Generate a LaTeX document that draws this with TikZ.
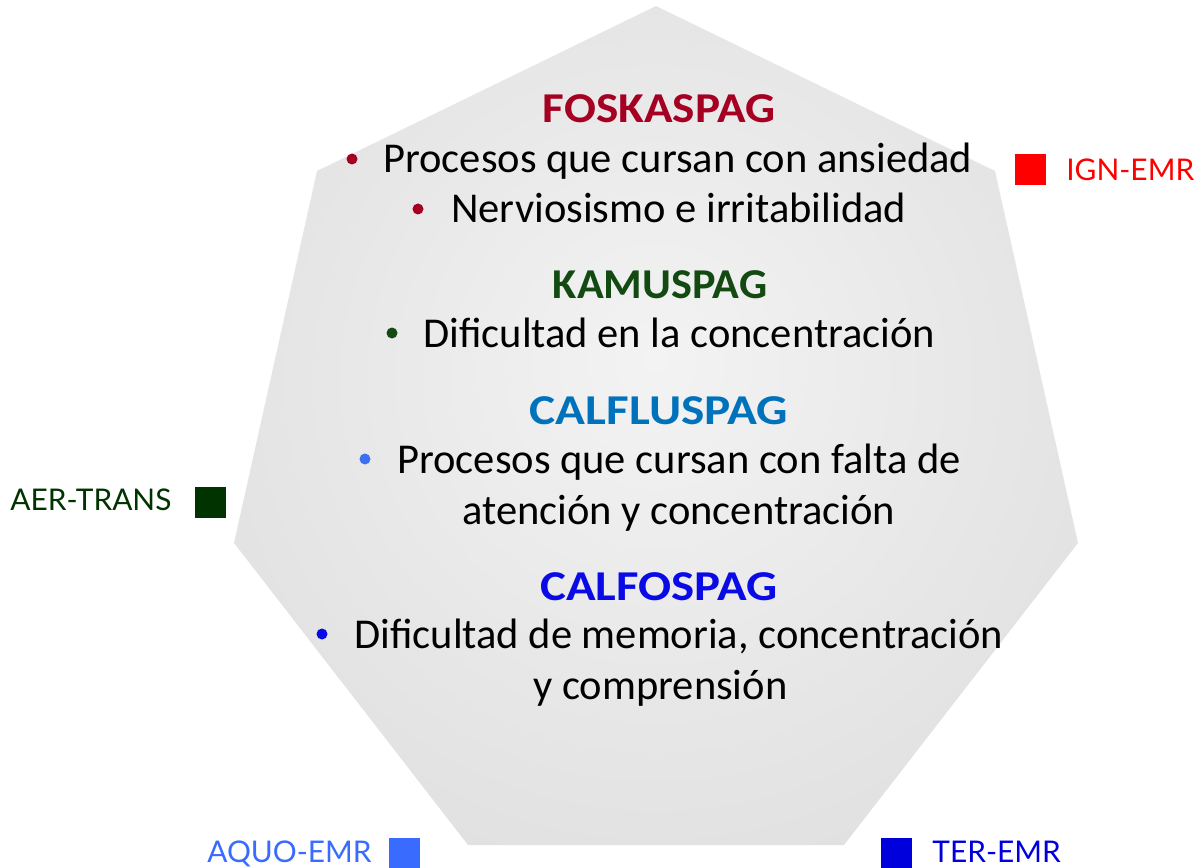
\documentclass[tikz,border=0pt]{standalone}
\usepackage{fontspec}
\setmainfont{Carlito}
\newfontfamily\legendfont{Lato}
\usetikzlibrary{positioning}
\definecolor{fosred}{HTML}{A50021}
\definecolor{kamgreen}{HTML}{124A12}
\definecolor{flublue}{HTML}{0072BC}
\definecolor{fludot}{HTML}{3D6FF2}
\definecolor{fosblue}{HTML}{0A0AE6}
\definecolor{ignred}{HTML}{FF0000}
\definecolor{aergreen}{HTML}{003300}
\definecolor{aquoblue}{HTML}{3A6BFF}
\definecolor{terblue}{HTML}{0000DD}
\definecolor{hepin}{HTML}{F3F3F3}
\definecolor{hepout}{HTML}{D8D8D8}
\pgfdeclareradialshading{heptglow}{\pgfpoint{0bp}{4bp}}{color(0bp)=(hepin); color(44bp)=(hepout); color(60bp)=(hepout)}

\begin{document}
\begin{tikzpicture}[x=0.02cm, y=-0.02cm,
  heading/.style={anchor=base,inner sep=0,
    font=\fontsize{24.2}{29}\selectfont\bfseries\addfontfeature{FakeStretch=#1}},
  bodyline/.style={anchor=base west,inner sep=0,font=\fontsize{24.2}{29}\selectfont},
  dot/.style={circle,inner sep=0,minimum size=0.22cm},
  swatch/.style={inner sep=0,minimum size=0.62cm},
  legend/.style={anchor=base west,inner sep=0,font=\legendfont\fontsize{17}{21}\selectfont}]
\useasboundingbox (0,0) rectangle (1197,868);
% heptagon
\coordinate (h1) at (656,6);
\coordinate (h2) at (995,171);
\coordinate (h3) at (1078,543);
\coordinate (h4) at (844,845);
\coordinate (h5) at (468,845);
\coordinate (h6) at (234,543);
\coordinate (h7) at (317,171);
\path[shading=heptglow] (h1) -- (h2) -- (h3) -- (h4) -- (h5) -- (h6) -- (h7) -- cycle;
% FOSKASPAG
\node[heading=1.11,text=fosred] (fos) at (659,123) {FOSKASPAG};
\node[bodyline] (fos1) at (383,173) {Procesos que cursan con ansiedad};
\node[dot,fill=fosred] (fosd1) at (352,159) {};
\node[bodyline] (fos2) at (451,223) {Nerviosismo e irritabilidad};
\node[dot,fill=fosred] (fosd2) at (418,209) {};
% KAMUSPAG
\node[heading=1.04,text=kamgreen] (kam) at (660,298) {KAMUSPAG};
\node[bodyline] (kam1) at (423,347) {Dificultad en la concentración};
\node[dot,fill=kamgreen] (kamd1) at (392,333) {};
% CALFLUSPAG
\node[heading=1.16,text=flublue] (flu) at (659,424) {CALFLUSPAG};
\node[bodyline] (flu1) at (397,473) {Procesos que cursan con falta de};
\node[dot,fill=fludot] (flud1) at (365,459) {};
\node[bodyline] (flu2) at (462,524) {atención y concentración};
% CALFOSPAG
\node[heading=1.15,text=fosblue] (cfo) at (659,600) {CALFOSPAG};
\node[bodyline] (cfo1) at (354,648) {Dificultad de memoria, concentración};
\node[dot,fill=fosblue] (cfod1) at (322,634) {};
\node[bodyline] (cfo2) at (533,699) {y comprensión};
% legend
\node[swatch,fill=ignred] (ign) at (1030.5,169.5) {};
\node[legend,text=ignred] (ignl) at (1066,181) {IGN-EMR};
\node[swatch,fill=aergreen] (aer) at (210.5,502.5) {};
\node[legend,text=aergreen] (aerl) at (10,510) {AER-TRANS};
\node[swatch,fill=aquoblue,minimum height=0.6cm] (aquo) at (404.5,853) {};
\node[legend,text=aquoblue] (aquol) at (207,862) {AQUO-EMR};
\node[swatch,fill=terblue,minimum height=0.6cm] (ter) at (896.5,853) {};
\node[legend,text=terblue] (terl) at (932,862) {TER-EMR};
\end{tikzpicture}
\end{document}
